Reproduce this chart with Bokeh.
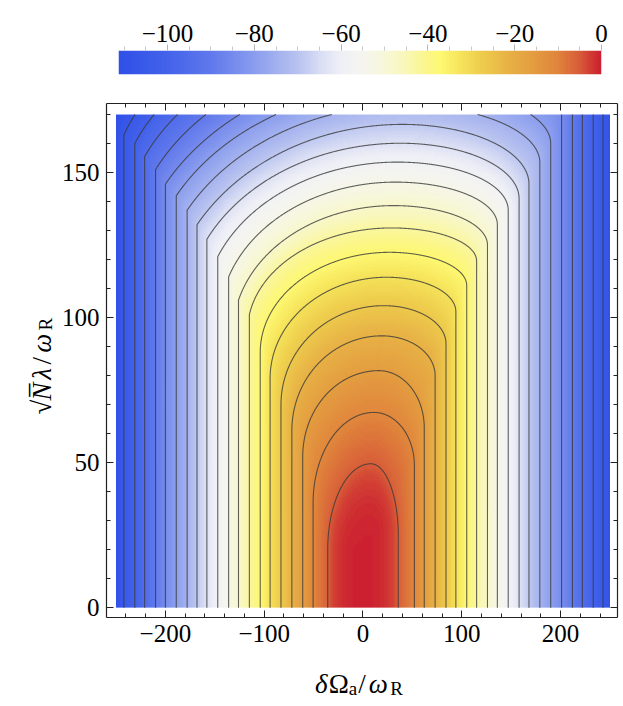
import numpy as np
from bokeh.plotting import figure
from bokeh.models import LinearColorMapper, LinearAxis, FixedTicker, Label, Range1d
from bokeh.layouts import column, row
from bokeh.embed import file_html
from bokeh.resources import INLINE

# ---------------- values ----------------
# colour scale (value -> colour) sampled from the legend bar
cmap_values = [-111, -100, -90, -80, -70, -65, -60, -55, -50, -45, -40, -37, -32, -28, -22, -16, -10, -5, 0]
cmap_colors = ["#3050E8", "#4463EA", "#6179EC", "#8A9DEE", "#B8C3F0", "#D8DDF4", "#EFF0F6",
               "#F5F5EF", "#F7F7DA", "#F9F7B8", "#FBF689", "#FEF872", "#F5E25A", "#EFCF4E",
               "#E8B446", "#E49E40", "#E0853C", "#D85E38", "#CC2030"]

# 20 contour levels
levels = [-105.7, -100.4, -95.1, -89.9, -84.6, -79.3, -74.0, -68.7, -63.4, -58.1,
          -52.9, -47.6, -42.3, -37.0, -31.7, -26.4, -21.1, -15.9, -10.6, -5.3]
peak_value = 0.0
# where each contour meets the bottom edge (left / right)
x_left = [-242, -231, -221, -210, -200, -189, -178, -168, -158, -147,
          -136, -126, -115, -104, -94, -83, -72, -61, -50.5, -35.7]
x_right = [243, 233, 222, 212, 201, 190, 179, 168, 158, 147,
           136, 126, 115, 105, 94, 84, 73, 62, 52, 35.7]
# apex of each arch-shaped contour
apex_x = [57.5, 55, 52.5, 50, 47.5, 45, 42.5, 40, 38, 35, 33, 31, 29, 27, 24, 21, 19, 16, 11, 8]
apex_y = [212, 205.5, 199, 192.5, 186, 179.6, 173.1, 166.6, 160.1, 153.6,
          146.7, 138.6, 130.9, 122.5, 113.9, 104.1, 93.7, 81.7, 67.3, 49.6]
# height where the left side leaves the vertical, and its slope there (None = smooth bend)
bend_left = [163, 160, 155.5, 151, 146, 142, 137, 132, 127, 121, 114, 106, 101, 88, 79, 70, 61, 52, 36, 20]
crease_slope = [0.75, 0.65, 0.6, 0.55, 0.5, 0.5, 0.5, 0.5, 0.55, 0.65, 0.8, 1.0, 1.5,
                None, None, None, None, None, None, None]
# height where the right side leaves the vertical
bend_right = [190, 185, 180, 175, 171, 160, 153.4, 146, 141, 137, 132, 125, 119.5, 111, 102, 91, 80, 62, 49, 25]

x_domain = [-250, 250]
y_domain = [0, 170]

x_ticks = [-200, -100, 0, 100, 200]
x_minor = [-240, -220, -180, -160, -140, -120, -80, -60, -40, -20, 20, 40, 60, 80, 120, 140, 160, 180, 220, 240]
y_ticks = [0, 50, 100, 150]
y_minor = [10, 20, 30, 40, 60, 70, 80, 90, 110, 120, 130, 140, 160, 170]
cb_ticks = [-100, -80, -60, -40, -20, 0]
cb_minor = [-110, -105, -95, -90, -85, -75, -70, -65, -55, -50, -45, -35, -30, -25, -15, -10, -5]

FONT = "Liberation Serif"
TICK_SIZE = "25px"

# ---------------- colour mapper ----------------
def hex2rgb(h):
    return [int(h[i:i + 2], 16) for i in (1, 3, 5)]

rgb = np.array([hex2rgb(c) for c in cmap_colors], float)
vals = np.linspace(cmap_values[0], cmap_values[-1], 256)
palette = ["#%02x%02x%02x" % tuple(int(round(np.interp(v, cmap_values, rgb[:, i]))) for i in range(3))
           for v in vals]
mapper = LinearColorMapper(palette=palette, low=cmap_values[0], high=cmap_values[-1])

# ---------------- contour geometry ----------------
n_lev = len(levels)
params = []
for k in range(n_lev):
    xt, ht = apex_x[k], apex_y[k]
    xl, yl = x_left[k], bend_left[k]
    dx, H = xt - xl, ht - yl
    s0 = crease_slope[k]
    if s0 is None:
        cL, aL, bL = yl, dx, H
    else:
        dy = H * H / (s0 * dx - 2 * H)
        cL = yl - dy
        bL = H + dy
        aL = dx / np.sqrt(1 - (dy / bL) ** 2)
    cR = bend_right[k]
    aR = x_right[k] - xt
    bR = ht - cR
    params.append((xt, xl, cL, aL, bL, x_right[k], cR, aR, bR))


def cross_y(k, xs):
    xt, xl, cL, aL, bL, xr, cR, aR, bR = params[k]
    y = np.full(xs.shape, np.nan)
    m = (xs >= xl) & (xs <= xt)
    y[m] = cL + bL * np.sqrt(np.clip(1 - ((xs[m] - xt) / aL) ** 2, 0, 1))
    m = (xs > xt) & (xs <= xr)
    y[m] = cR + bR * np.sqrt(np.clip(1 - ((xs[m] - xt) / aR) ** 2, 0, 1))
    return y


def contour_full(k):
    xt, xl, cL, aL, bL, xr, cR, aR, bR = params[k]
    th0 = np.arccos(np.clip((xt - xl) / aL, -1, 1))
    th = np.linspace(th0, np.pi / 2, 500)
    lx, ly = xt - aL * np.cos(th), cL + bL * np.sin(th)
    th2 = np.linspace(np.pi / 2, 0, 400)
    rx, ry = xt + aR * np.cos(th2), cR + bR * np.sin(th2)
    nl, nr = int(ly[0]) + 2, int(ry[-1]) + 2
    xs = np.concatenate([np.full(nl, xl), lx, rx, np.full(nr, xr)])
    ys = np.concatenate([np.linspace(y_domain[0], ly[0], nl), ly, ry, np.linspace(ry[-1], y_domain[0], nr)])
    return xs, ys


def clip_top(xs, ys, top):
    segs, cx, cy = [], [], []
    for i in range(len(xs)):
        inside = ys[i] <= top
        if i > 0 and inside != (ys[i - 1] <= top):
            t = (top - ys[i - 1]) / (ys[i] - ys[i - 1])
            cx.append(float(xs[i - 1] + t * (xs[i] - xs[i - 1])))
            cy.append(float(top))
            if not inside:
                segs.append((cx, cy))
                cx, cy = [], []
        if inside:
            cx.append(float(xs[i]))
            cy.append(float(ys[i]))
    if len(cx) > 1:
        segs.append((cx, cy))
    return segs


def min_dist(px, py, qx, qy, chunk=1500):
    out = np.empty(len(px))
    for s in range(0, len(px), chunk):
        ddx = px[s:s + chunk, None] - qx[None, :]
        ddy = py[s:s + chunk, None] - qy[None, :]
        out[s:s + chunk] = np.sqrt((ddx * ddx + ddy * ddy).min(axis=1))
    return out

# ---------------- density field (interpolated between neighbouring contours) ----------------
paths = [contour_full(k) for k in range(n_lev)]
gx = np.linspace(x_domain[0], x_domain[1], 501)
gy = np.linspace(y_domain[0], y_domain[1], 171)
GX, GY = np.meshgrid(gx, gy)
band = np.zeros(GX.shape, int)
for k in range(n_lev):
    yk = cross_y(k, gx)
    band += (~np.isnan(yk))[None, :] & (GY < np.nan_to_num(yk, nan=-1e9)[None, :])

fx, fy, fb = GX.ravel(), GY.ravel(), band.ravel()
fv = np.empty(fx.shape)
for m in range(n_lev + 1):
    idx = np.nonzero(fb == m)[0]
    if len(idx) == 0:
        continue
    px, py = fx[idx], fy[idx]
    if m == 0:
        d0 = min_dist(px, py, *paths[0])
        fv[idx] = levels[0] - 0.5 * d0
    elif m == n_lev:
        d0 = min_dist(px, py, *paths[-1])
        fv[idx] = levels[-1] + (peak_value - levels[-1]) * (1 - np.exp(-d0 / 10.0))
    else:
        d_out = min_dist(px, py, *paths[m - 1])
        d_in = min_dist(px, py, *paths[m])
        w = d_out / np.maximum(d_out + d_in, 1e-9)
        fv[idx] = levels[m - 1] + (levels[m] - levels[m - 1]) * w
field = fv.reshape(GX.shape)

# light smoothing of the rendered shading
kx = np.array([1, 2, 3, 2, 1], float); kx /= kx.sum()
ky = np.array([1, 2, 1], float); ky /= ky.sum()
fp = np.pad(field, ((0, 0), (2, 2)), mode="edge")
field = sum(kx[i] * fp[:, i:i + field.shape[1]] for i in range(5))
fp = np.pad(field, ((1, 1), (0, 0)), mode="edge")
field = sum(ky[i] * fp[i:i + field.shape[0], :] for i in range(3))

# ---------------- main figure ----------------
XR = (-259.6, 257.6)
YR = (-3.4, 173.8)
p = figure(width=564, height=574, x_range=Range1d(*XR), y_range=Range1d(*YR),
           output_backend="svg", toolbar_location=None,
           min_border_left=47, min_border_right=5, min_border_top=23, min_border_bottom=37)
p.grid.visible = False
p.outline_line_color = None

p.image(image=[field], x=x_domain[0], y=y_domain[0], dw=x_domain[1] - x_domain[0],
        dh=y_domain[1] - y_domain[0], color_mapper=mapper)

seg_x, seg_y = [], []
for k in range(n_lev):
    for sx, sy in clip_top(*paths[k], y_domain[1]):
        seg_x.append(sx)
        seg_y.append(sy)
p.multi_line(xs=seg_x, ys=seg_y, line_color="#3a3a3a", line_alpha=0.8, line_width=1.1)

p.add_layout(LinearAxis(), "above")
p.add_layout(LinearAxis(), "right")


def minus(t):
    return str(t).replace("-", "\u2212")


for axes, ticks, minor in ((p.xaxis, x_ticks, x_minor), (p.yaxis, y_ticks, y_minor)):
    for ax in axes:
        ax.ticker = FixedTicker(ticks=ticks, minor_ticks=minor)
        ax.axis_line_color = "#222222"
        ax.axis_line_width = 1.2
        ax.major_tick_line_color = "#222222"
        ax.minor_tick_line_color = "#222222"
        ax.major_tick_in = 7
        ax.major_tick_out = 0
        ax.minor_tick_in = 4
        ax.minor_tick_out = 0
        ax.major_label_overrides = {t: minus(t) for t in ticks}
        ax.major_label_text_font = FONT
        ax.major_label_text_font_size = TICK_SIZE
        ax.major_label_text_color = "black"
        ax.major_label_standoff = 7
for ax, ticks in ((p.above[0], x_ticks), (p.right[0], y_ticks)):
    ax.major_label_overrides = {t: "" for t in ticks}
    ax.major_label_standoff = 0


def add_text(fig, x, y, text, size, italic=False, angle=0.0):
    fig.add_layout(Label(x=x, y=y, text=text, text_font=FONT, text_font_size=size,
                         text_font_style="italic" if italic else "normal", angle=angle,
                         text_align="left", text_baseline="alphabetic", text_color="black"))


def blank(fig):
    fig.grid.visible = False
    fig.outline_line_color = None
    return fig

# ---------------- x-axis title strip ----------------
xl_fig = blank(figure(width=622, height=52, x_range=Range1d(*XR), y_range=Range1d(0, 52),
                      output_backend="svg", toolbar_location=None,
                      x_axis_location=None, y_axis_location=None,
                      min_border_left=105, min_border_right=5, min_border_top=0, min_border_bottom=0))
yb, ys_ = 23, 18
add_text(xl_fig, -49.2, yb, "\u03b4", "27px", italic=True)
add_text(xl_fig, -34.5, yb, "\u03a9", "27px")
add_text(xl_fig, -13.0, ys_, "a", "19px")
add_text(xl_fig, -3.0, yb, "/", "27px")
add_text(xl_fig, 8.5, yb, "\u03c9", "27px", italic=True)
add_text(xl_fig, 31.5, ys_, "R", "19px")

# ---------------- y-axis title strip ----------------
yl_fig = blank(figure(width=58, height=574, x_range=Range1d(0, 58), y_range=Range1d(*YR),
                      output_backend="svg", toolbar_location=None,
                      x_axis_location=None, y_axis_location=None,
                      min_border_left=0, min_border_right=0, min_border_top=23, min_border_bottom=37))
xb, xsub = 41, 45
ang = np.pi / 2
add_text(yl_fig, xb, 66.6, "\u221a", "27px", angle=ang)
add_text(yl_fig, xb, 71.4, "N\u0305", "27px", italic=True, angle=ang)
add_text(yl_fig, xb, 78.6, "\u03bb", "27px", italic=True, angle=ang)
add_text(yl_fig, xb, 83.8, "/", "27px", angle=ang)
add_text(yl_fig, xb, 87.9, "\u03c9", "27px", italic=True, angle=ang)
add_text(yl_fig, xsub, 95.5, "R", "19px", angle=ang)

# ---------------- colour bar ----------------
cb = figure(width=622, height=80, x_range=Range1d(-111.3, 0), y_range=Range1d(0, 1),
            output_backend="svg", toolbar_location=None, x_axis_location="above", y_axis_location=None,
            min_border_left=118, min_border_right=21, min_border_top=50, min_border_bottom=6)
cb.grid.visible = False
cb.outline_line_color = None
cb.image(image=[np.linspace(-111.3, 0, 600)[None, :]], x=-111.3, y=0, dw=111.3, dh=1, color_mapper=mapper)
ax = cb.xaxis[0]
ax.ticker = FixedTicker(ticks=cb_ticks, minor_ticks=cb_minor)
ax.axis_line_color = None
ax.major_tick_line_color = "#b5b5b5"
ax.minor_tick_line_color = "#c8c8c8"
ax.major_tick_in = 0
ax.major_tick_out = 6
ax.minor_tick_in = 0
ax.minor_tick_out = 4
ax.major_label_overrides = {t: minus(t) for t in cb_ticks}
ax.major_label_text_font = FONT
ax.major_label_text_font_size = TICK_SIZE
ax.major_label_text_color = "black"
ax.major_label_standoff = 3

layout = column(cb, row(yl_fig, p), xl_fig)
open("out.html", "w").write(file_html(layout, INLINE))
